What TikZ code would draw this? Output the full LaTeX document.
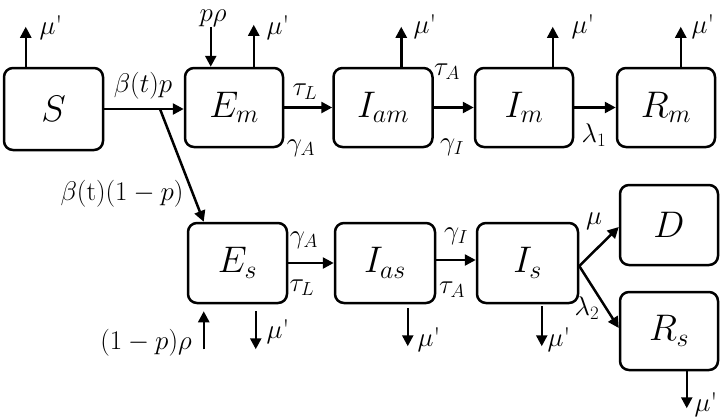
\documentclass[tikz,border=0pt]{standalone}
\usepackage{fix-cm}
\usetikzlibrary{arrows.meta}
\begin{document}
\begin{tikzpicture}[x=1pt,y=-1pt,
  box/.style={draw, line width=2.5pt, rounded corners=9pt, inner sep=0pt, font=\fontsize{37}{44}\selectfont},
  arr/.style={line width=2.5pt, -{Triangle[length=11pt,width=11pt]}},
  lab/.style={inner sep=0pt, font=\fontsize{27}{32}\selectfont}]
\useasboundingbox (0,0) rectangle (722,418);
% boxes
\node[box, minimum width=99pt, minimum height=82pt] (S) at (53.5,109) {$S$};
\node[box, minimum width=98pt, minimum height=79pt] (Em) at (234,107.5) {$E_m$};
\node[box, minimum width=99pt, minimum height=79pt] (Iam) at (383,107.5) {$I_{am}$};
\node[box, minimum width=98pt, minimum height=79pt] (Im) at (524,107.5) {$I_m$};
\node[box, minimum width=98pt, minimum height=79pt] (Rm) at (666,107.5) {$R_m$};
\node[box, minimum width=99pt, minimum height=80pt] (Es) at (237.5,263) {$E_s$};
\node[box, minimum width=100pt, minimum height=80pt] (Ias) at (385,263) {$I_{as}$};
\node[box, minimum width=101pt, minimum height=80pt] (Is) at (527.5,263) {$I_s$};
\node[box, minimum width=98pt, minimum height=80pt] (D) at (669,225) {$D$};
\node[box, minimum width=98pt, minimum height=78pt] (Rs) at (669,331) {$R_s$};
% main flows
\draw[arr] (S.east) -- (S.east -| Em.west);
\coordinate (br) at (160,109);
\draw[arr] (br) -- ([xshift=17pt]Es.north west);
\draw[arr] (Em.east) -- (Em.east -| Iam.west);
\draw[arr] (Iam.east) -- (Iam.east -| Im.west);
\draw[arr] (Im.east) -- (Im.east -| Rm.west);
\draw[arr] (Es.east) -- (Ias.west);
\draw[arr] ([yshift=3pt]Ias.east) -- ([yshift=3pt]Is.west);
\draw[arr] ([yshift=-3pt]Is.east) -- ([yshift=-2pt]D.west);
\draw[arr] ([yshift=-3pt]Is.east) -- ([yshift=3pt]Rs.west);
% outflows / inflows
\draw[arr] ([xshift=23pt]S.north west) -- ++(0pt,40pt) coordinate (s1);
\draw[arr] ([xshift=27pt,yshift=40pt]Em.north west) coordinate (e0) -- ([xshift=27pt]Em.north west);
\draw[arr] ([xshift=70pt]Em.north west) -- ++(0pt,42pt) coordinate (e1);
\draw[arr] ([xshift=69pt]Iam.north west) -- ++(0pt,40pt) coordinate (i1);
\draw[arr] ([xshift=79pt]Im.north west) -- ++(0pt,40pt) coordinate (m1);
\draw[arr] ([xshift=65pt]Rm.north west) -- ++(0pt,40pt) coordinate (r1);
\draw[arr] ([xshift=17pt,yshift=-45pt]Es.south west) coordinate (es0) -- ([xshift=17pt,yshift=-7pt]Es.south west);
\draw[arr] ([xshift=69pt,yshift=-7pt]Es.south west) -- ++(0pt,-38pt) coordinate (es1);
\draw[arr] ([xshift=74pt,yshift=-4pt]Ias.south west) -- ++(0pt,-38pt) coordinate (ia1);
\draw[arr] ([xshift=66pt,yshift=-2pt]Is.south west) -- ++(0pt,-40pt) coordinate (is1);
\draw[arr] ([xshift=68pt]Rs.south west) -- ++(0pt,-37pt) coordinate (rs1);
% labels
\node[lab] (l1) at (51,28) {$\mu$\textquotesingle};
\node[lab] (l2) at (213,18) {$p\rho$};
\node[lab] (l3) at (278,28) {$\mu$\textquotesingle};
\node[lab] (l4) at (143,86) {$\beta(t)p$};
\node[lab] (l5) at (305,92) {$\tau_L$};
\node[lab] (l6) at (301,148) {$\gamma_A$};
\node[lab] (l7) at (122,194) {$\beta(\mathrm{t})(1-p)$};
\node[lab] (l8) at (425,27) {$\mu$\textquotesingle};
\node[lab] (l9) at (447,72) {$\tau_A$};
\node[lab] (l10) at (452,147) {$\gamma_I$};
\node[lab] (l11) at (583,27) {$\mu$\textquotesingle};
\node[lab] (l12) at (594,135) {$\lambda_1$};
\node[lab] (l13) at (703,27) {$\mu$\textquotesingle};
\node[lab] (l14) at (304,240) {$\gamma_A$};
\node[lab] (l15) at (302,288) {$\tau_L$};
\node[lab] (l16) at (146,343) {$(1-p)\rho$};
\node[lab] (l17) at (278,332) {$\mu$\textquotesingle};
\node[lab] (l18) at (429,340) {$\mu$\textquotesingle};
\node[lab] (l19) at (456,236) {$\gamma_I$};
\node[lab] (l20) at (452,290) {$\tau_A$};
\node[lab] (l21) at (559,340) {$\mu$\textquotesingle};
\node[lab] (l22) at (594,221) {$\mu$};
\node[lab] (l23) at (587,308) {$\lambda_2$};
\node[lab] (l24) at (706,405) {$\mu$\textquotesingle};
\end{tikzpicture}
\end{document}
